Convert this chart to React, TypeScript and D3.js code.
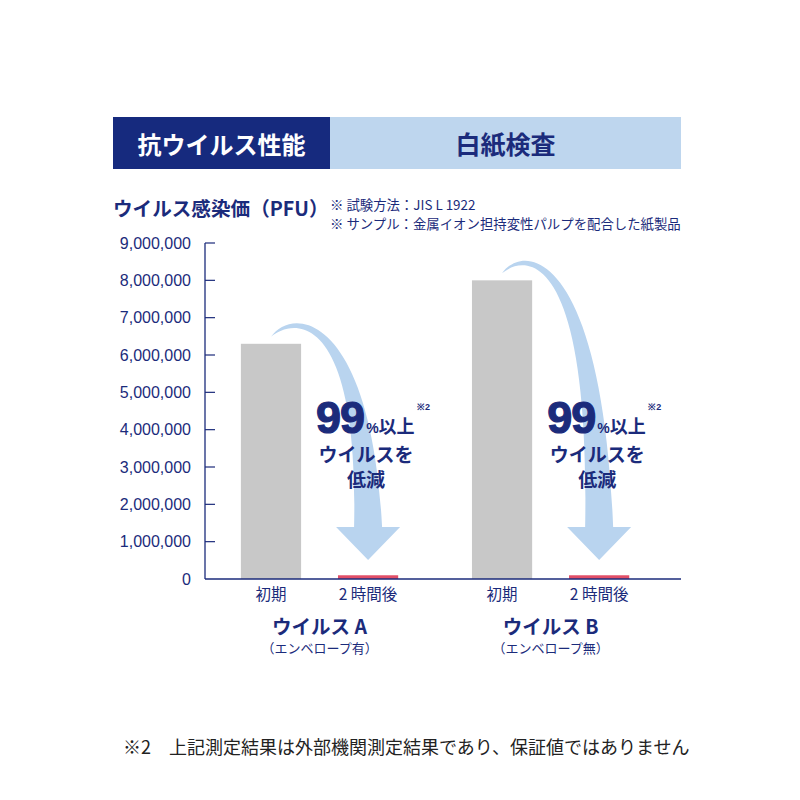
import React from "react";
import * as d3 from "d3";

// ---- data ----
const groups = ["ウイルス A", "ウイルス B"];
const groupNotes = ["（エンベロープ有）", "（エンベロープ無）"];
const times = ["初期", "2 時間後"];
const virusA = [6300000, 100000];
const virusB = [8000000, 100000];
const seriesValues = [virusA, virusB];
const yTickValues = [0, 1000000, 2000000, 3000000, 4000000, 5000000, 6000000, 7000000, 8000000, 9000000];
const headerLeft = "抗ウイルス性能";
const headerRight = "白紙検査";
const yTitle = "ウイルス感染価（PFU）";
const notes = ["※ 試験方法：JIS L 1922", "※ サンプル：金属イオン担持変性パルプを配合した紙製品"];
const reduction = { big: "99", pct: "%", rest: "以上", ref: "※2", line2: "ウイルスを", line3: "低減" };
const footnote = "※2　上記測定結果は外部機関測定結果であり、保証値ではありません";

const NAVY = "#1b2b7b";
const JP = "'Noto Sans CJK JP', 'Noto Sans', sans-serif";
const NUM = "'Liberation Sans', Arial, sans-serif";

export default function App() {
  const W = 800, H = 800;
  const plotLeft = 204, plotRight = 681, plotTop = 243, plotBottom = 579;

  const y = d3.scaleLinear().domain([0, 9000000]).range([plotBottom, plotTop]);
  const gx = d3.scaleBand<string>().domain(groups).range([plotLeft, plotRight - 1]).paddingInner(0).paddingOuter(0.03).align(0);
  const tx = d3.scaleBand<string>().domain(times).range([0, gx.bandwidth()]).paddingInner(0.38).paddingOuter(0.38);
  const bw = tx.bandwidth();
  const fmt = d3.format(",");

  const arrows = groups.map((g, gi) => {
    const v0 = seriesValues[gi][0];
    const tail = { x: (gx(g) as number) + (tx(times[0]) as number) + bw / 2, y: y(v0) - 7 };
    const bcx = (gx(g) as number) + (tx(times[1]) as number) + bw / 2;
    const baseY = plotBottom - 52;
    const tipY = plotBottom - 19;
    const p = d3.path();
    p.moveTo(tail.x, tail.y);
    p.bezierCurveTo(tail.x + 22, tail.y - 32, bcx + 3, tail.y - 22, bcx + 14, baseY);
    p.lineTo(bcx + 32, baseY);
    p.lineTo(bcx, tipY);
    p.lineTo(bcx - 32, baseY);
    p.lineTo(bcx - 14, baseY);
    p.bezierCurveTo(bcx - 9, tail.y - 27, tail.x + 22, tail.y - 19, tail.x, tail.y);
    p.closePath();
    return { d: p.toString(), cx: bcx };
  });

  return (
    <svg width={W} height={H} style={{ position: "absolute", left: 0, top: 0, background: "#fff" }}>
      <rect x={0} y={0} width={W} height={H} fill="#fff" />
      {/* header */}
      <rect x={113} y={117} width={217} height={52} fill="#162a7e" />
      <rect x={330} y={117} width={351} height={52} fill="#bed6ee" />
      <text x={221.5} y={143} fill="#fff" fontFamily={JP} fontWeight={700} fontSize={24} textAnchor="middle" dominantBaseline="central">{headerLeft}</text>
      <text x={505.5} y={143} fill={NAVY} fontFamily={JP} fontWeight={700} fontSize={25} textAnchor="middle" dominantBaseline="central">{headerRight}</text>

      {/* titles */}
      <text x={113} y={207} fill={NAVY} fontFamily={JP} fontWeight={700} fontSize={19.6} dominantBaseline="central">{yTitle}</text>
      <text x={330} y={204} fill={NAVY} fontFamily={JP} fontSize={13.4} dominantBaseline="central">{notes[0]}</text>
      <text x={330} y={223} fill={NAVY} fontFamily={JP} fontSize={13.4} dominantBaseline="central">{notes[1]}</text>

      {/* y axis */}
      <line x1={plotLeft + 1} x2={plotLeft + 1} y1={plotTop} y2={plotBottom} stroke={NAVY} strokeWidth={1.3} />
      {yTickValues.map((t) => (
        <g key={t}>
          {t > 0 && <line x1={plotLeft + 1} x2={plotLeft + 11} y1={y(t)} y2={y(t)} stroke={NAVY} strokeWidth={1.2} />}
          <text x={191} y={y(t)} fill={NAVY} fontFamily={NUM} fontSize={16} textAnchor="end" dominantBaseline="central">{fmt(t)}</text>
        </g>
      ))}

      {/* bars */}
      {groups.map((g, gi) =>
        times.map((t, ti) => {
          const v = seriesValues[gi][ti];
          return (
            <rect key={g + t} x={(gx(g) as number) + (tx(t) as number)} y={y(v)} width={bw} height={plotBottom - y(v)}
              fill={ti === 0 ? "#c8c8c8" : "#e14f67"} />
          );
        })
      )}
      <line x1={plotLeft + 1} x2={plotRight} y1={plotBottom} y2={plotBottom} stroke={NAVY} strokeWidth={1.3} />

      {/* arrows + annotation */}
      {arrows.map((a, i) => (
        <g key={i}>
          <path d={a.d} fill="#b9d4ef" />
          <text x={a.cx - 52} y={433} fill={NAVY} fontFamily={NUM} fontWeight={700}>
            <tspan fontSize={45} letterSpacing={-1} stroke={NAVY} strokeWidth={1.2}>{reduction.big}</tspan>
            <tspan fontSize={14} dx={2}>{reduction.pct}</tspan>
            <tspan fontSize={18} fontFamily={JP}>{reduction.rest}</tspan>
          </text>
          <text x={a.cx + 49} y={410} fill={NAVY} fontFamily={NUM} fontWeight={700} fontSize={9}>{reduction.ref}</text>
          <text x={a.cx - 2} y={453} fill={NAVY} fontFamily={JP} fontWeight={700} fontSize={19} textAnchor="middle" dominantBaseline="central">{reduction.line2}</text>
          <text x={a.cx - 2} y={478} fill={NAVY} fontFamily={JP} fontWeight={700} fontSize={19} textAnchor="middle" dominantBaseline="central">{reduction.line3}</text>
        </g>
      ))}

      {/* x labels */}
      {groups.map((g, gi) => (
        <g key={g}>
          {times.map((t) => (
            <text key={t} x={(gx(g) as number) + (tx(t) as number) + bw / 2} y={593} fill={NAVY} fontFamily={JP} fontSize={15.5}
              textAnchor="middle" dominantBaseline="central" style={{ whiteSpace: "pre" }}>{t}</text>
          ))}
          <text x={(gx(g) as number) + gx.bandwidth() / 2} y={625} fill={NAVY} fontFamily={JP} fontWeight={700} fontSize={19.5}
            textAnchor="middle" dominantBaseline="central">{g}</text>
          <text x={(gx(g) as number) + gx.bandwidth() / 2} y={647} fill={NAVY} fontFamily={JP} fontSize={13}
            textAnchor="middle" dominantBaseline="central">{groupNotes[gi]}</text>
        </g>
      ))}

      {/* footnote */}
      <text x={123} y={746} fill="#222" fontFamily={JP} fontSize={18} dominantBaseline="central">{footnote}</text>
    </svg>
  );
}
